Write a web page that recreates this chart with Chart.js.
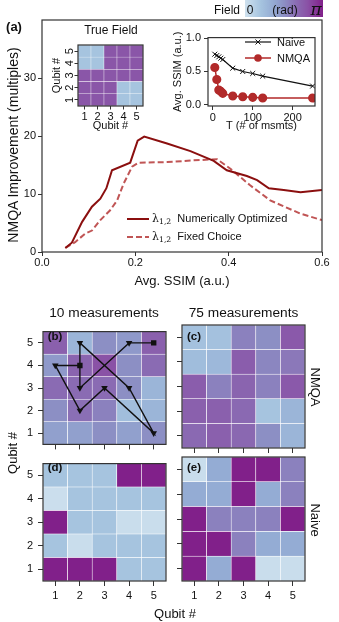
<!DOCTYPE html>
<html>
<head>
<meta charset="utf-8">
<script src="https://cdn.jsdelivr.net/npm/chart.js@4.4.0/dist/chart.umd.min.js"></script>
<style>
body { margin: 0; background: #fff; }
#fig { position: relative; width: 339px; height: 622px; overflow: hidden; font-family: "Liberation Sans", Arial, Helvetica, sans-serif; color: #111; }
#fig canvas { position: absolute; }
.t { position: absolute; white-space: nowrap; line-height: 1; }
.t sub { font-size: 70%; vertical-align: -0.25em; }
</style>
</head>
<body>
<div id="fig"></div>
<script>
// ---- data ----
// (a) main: NMQA improvement vs average SSIM
var ssimOpt = [0.05, 0.064, 0.086, 0.107, 0.125, 0.138, 0.15, 0.189, 0.205, 0.219, 0.268, 0.318, 0.368, 0.396, 0.439, 0.461, 0.486, 0.518, 0.554, 0.6];
var improveOpt = [0.7, 1.6, 5.2, 7.8, 9.2, 11, 14.1, 15.4, 19.2, 19.9, 18.7, 17.4, 15.7, 14.1, 13.1, 12.4, 11, 10.7, 10.3, 10.7];
var ssimFixed = [0.05, 0.071, 0.093, 0.107, 0.125, 0.146, 0.161, 0.175, 0.193, 0.207, 0.268, 0.325, 0.375, 0.403, 0.446, 0.489, 0.554, 0.6];
var improveFixed = [0.7, 1.7, 3.2, 3.7, 5.5, 7.2, 8.9, 11.8, 14.7, 15.4, 15.5, 15.8, 16, 14.4, 11.5, 8.9, 6.6, 5.5];

// (a) inset: SSIM vs number of measurements
var msmts = [5, 10, 15, 20, 25, 50, 75, 100, 125, 250];
var ssimNaive = [0.76, 0.74, 0.72, 0.7, 0.68, 0.55, 0.5, 0.47, 0.43, 0.28];
var ssimNmqa = [0.56, 0.38, 0.22, 0.2, 0.17, 0.13, 0.12, 0.11, 0.1, 0.1];

var qubits = ['1', '2', '3', '4', '5'];

// field maps as fraction of pi, rows listed from qubit 5 (top) to qubit 1 (bottom)
var trueField = [
	[0.2, 0.2, 0.78, 0.78, 0.78],
	[0.2, 0.2, 0.78, 0.78, 0.78],
	[0.78, 0.78, 0.78, 0.78, 0.78],
	[0.78, 0.78, 0.78, 0.2, 0.2],
	[0.78, 0.78, 0.78, 0.2, 0.2]
];
var nmqa10 = [
	[0.72, 0.3, 0.5, 0.45, 0.72],
	[0.45, 0.7, 0.8, 0.5, 0.66],
	[0.66, 0.66, 0.66, 0.5, 0.3],
	[0.5, 0.64, 0.56, 0.24, 0.3],
	[0.42, 0.42, 0.5, 0.42, 0.5]
];
var nmqa75 = [
	[0.22, 0.22, 0.56, 0.5, 0.76],
	[0.25, 0.28, 0.74, 0.54, 0.6],
	[0.74, 0.56, 0.7, 0.56, 0.76],
	[0.72, 0.72, 0.67, 0.2, 0.3],
	[0.67, 0.72, 0.68, 0.5, 0.3]
];
var naive10 = [
	[0.2, 0.2, 0.2, 1, 1],
	[0.02, 0.2, 0.2, 0.2, 0.2],
	[1, 0.2, 0.2, 0.03, 0.03],
	[0.2, 0.03, 0.2, 0.2, 0.2],
	[1, 1, 1, 0.2, 0.2]
];
var naive75 = [
	[0.03, 0.36, 1, 1, 0.56],
	[0.36, 0.36, 1, 0.36, 0.56],
	[1, 0.56, 0.56, 0.56, 1],
	[1, 1, 0.56, 0.36, 0.36],
	[1, 0.36, 1, 0.03, 0.03]
];
// measurement path for 10 measurements, [qubit x, qubit y]
var path10 = [[2, 4], [1, 4], [2, 2], [3, 3], [5, 1], [4, 3], [2, 5], [2, 3], [4, 5], [5, 5]];

// ---- helpers ----
var FONT = '"Liberation Sans", Arial, Helvetica, sans-serif';
Chart.defaults.font.family = FONT;
Chart.defaults.color = '#111';
Chart.defaults.animation = false;
Chart.defaults.events = [];
Chart.defaults.plugins.legend.display = false;
Chart.defaults.plugins.tooltip.enabled = false;

var fig = document.getElementById('fig');

// truncated BuPu-like map
var cmap = [
	[0.00, [207, 225, 238]],
	[0.20, [166, 196, 223]],
	[0.35, [149, 174, 213]],
	[0.50, [140, 143, 196]],
	[0.65, [138, 109, 180]],
	[0.80, [138, 82, 166]],
	[1.00, [129, 32, 138]]
];
function fieldColor(v) {
	for (var i = 1; i < cmap.length; i++) {
		if (v <= cmap[i][0]) {
			var a = cmap[i - 1], b = cmap[i];
			var f = (v - a[0]) / (b[0] - a[0]);
			var c = a[1].map(function(x, k) { return Math.round(x + (b[1][k] - x) * f); });
			return 'rgb(' + c.join(',') + ')';
		}
	}
	return 'rgb(' + cmap[cmap.length - 1][1].join(',') + ')';
}

function addCanvas(x, y, w, h) {
	var c = document.createElement('canvas');
	c.width = w; c.height = h;
	c.style.left = x + 'px'; c.style.top = y + 'px';
	c.style.width = w + 'px'; c.style.height = h + 'px';
	fig.appendChild(c);
	return c;
}

function addText(html, cx, cy, size, extra) {
	var d = document.createElement('div');
	d.className = 't';
	d.innerHTML = html;
	d.style.left = cx + 'px';
	d.style.top = cy + 'px';
	d.style.fontSize = size + 'px';
	var rot = extra && extra.rot ? ' rotate(' + extra.rot + 'deg)' : '';
	var anchor = extra && extra.left ? 'translate(0,-50%)' : 'translate(-50%,-50%)';
	d.style.transform = anchor + rot;
	if (extra && extra.bold) d.style.fontWeight = 'bold';
	if (extra && extra.italic) d.style.fontStyle = 'italic';
	if (extra && extra.family) d.style.fontFamily = extra.family;
	fig.appendChild(d);
	return d;
}

var framePlugin = {
	id: 'frame',
	afterDatasetsDraw: function(chart) {
		var a = chart.chartArea, ctx = chart.ctx;
		ctx.save();
		ctx.strokeStyle = '#333';
		ctx.lineWidth = 1.2;
		ctx.strokeRect(a.left, a.top, a.right - a.left, a.bottom - a.top);
		ctx.restore();
	}
};

function fixW(w) { return function(s) { s.width = w; }; }
function fixH(h) { return function(s) { s.height = h; }; }
function setTicks(list) { return function(s) { s.ticks = list.map(function(v) { return { value: v }; }); }; }

var tickGrid = { drawOnChartArea: false, drawTicks: true, tickLength: 4, color: '#333', lineWidth: 1 };

// ---- (a) main chart ----
// canvas [0,0,339,293], plot area [42,20,322,252]
new Chart(addCanvas(0, 0, 339, 293), {
	type: 'line',
	data: {
		datasets: [{
			data: ssimOpt.map(function(x, i) { return { x: x, y: improveOpt[i] }; }),
			borderColor: '#8b0f0f',
			borderWidth: 2,
			pointRadius: 0
		}, {
			data: ssimFixed.map(function(x, i) { return { x: x, y: improveFixed[i] }; }),
			borderColor: '#c05555',
			borderWidth: 2,
			borderDash: [6, 3],
			pointRadius: 0
		}]
	},
	options: {
		responsive: false,
		layout: { padding: { top: 20, right: 17, left: 0, bottom: 0 } },
		scales: {
			x: {
				type: 'linear', min: 0, max: 0.6,
				afterBuildTicks: setTicks([0, 0.2, 0.4, 0.6]),
				afterFit: fixH(41),
				grid: tickGrid, border: { display: false },
				ticks: { font: { size: 11 }, padding: 0, color: '#111', callback: function(v) { return v.toFixed(1); } },
				title: { display: true, text: 'Avg. SSIM (a.u.)', font: { size: 13 }, color: '#111', padding: { top: 0, bottom: 4 } }
			},
			y: {
				type: 'linear', min: 0, max: 40,
				afterBuildTicks: setTicks([0, 10, 20, 30]),
				afterFit: fixW(42),
				grid: tickGrid, border: { display: false },
				ticks: { font: { size: 11 }, padding: 2, color: '#111' }
			}
		}
	},
	plugins: [framePlugin]
});
addText('NMQA Improvement (multiples)', 13, 145, 14, { rot: -90 });
addText('(a)', 14, 26, 13, { bold: true });

// main legend
function legendLine(x, y, w, color, dash) {
	var s = '<svg width="' + w + '" height="6" style="position:absolute;left:' + x + 'px;top:' + (y - 3) + 'px">' +
		'<line x1="0" y1="3" x2="' + w + '" y2="3" stroke="' + color + '" stroke-width="2"' + (dash ? ' stroke-dasharray="6,3"' : '') + '/></svg>';
	fig.insertAdjacentHTML('beforeend', s);
}
legendLine(127, 219, 22, '#8b0f0f', false);
legendLine(127, 237, 22, '#c05555', true);
addText('<span style="font-family:\'DejaVu Serif\',serif">λ<sub>1,2</sub></span>&nbsp; Numerically Optimized', 152, 219, 11, { left: true });
addText('<span style="font-family:\'DejaVu Serif\',serif">λ<sub>1,2</sub></span>&nbsp; Fixed Choice', 152, 237, 11, { left: true });

// colorbar
var cb = document.createElement('div');
cb.style.cssText = 'position:absolute;left:245px;top:0px;width:78px;height:17px;';
var stops = [];
for (var i = 0; i <= 10; i++) stops.push(fieldColor(i / 10) + ' ' + (i * 10) + '%');
cb.style.background = 'linear-gradient(to right,' + stops.join(',') + ')';
fig.appendChild(cb);
addText('Field', 227, 10, 12);
addText('0', 250, 10, 12);
addText('(rad)', 285, 10, 12);
addText('π', 316, 9, 17, { family: '"DejaVu Serif", serif', italic: true });

// ---- heatmap helper (stacked bars, one dataset per qubit row) ----
function heatmap(box, area, field, o) {
	var wy = area[0] - box[0], hx = box[1] + box[3] - area[3];
	var sets = [];
	if (o.path) {
		sets.push({
			type: 'line',
			stack: 'path',
			data: o.path.map(function(p) { return { x: String(p[0]), y: p[1] - 0.5 }; }),
			borderColor: '#111',
			borderWidth: 1.4,
			pointStyle: o.path.map(function(p, i) { return (i === 0 || i === o.path.length - 1) ? 'rect' : 'triangle'; }),
			pointRotation: 180,
			pointRadius: 3.8,
			pointBackgroundColor: '#111',
			pointBorderColor: '#111',
			pointBorderWidth: 0
		});
	}
	for (var r = 1; r <= 5; r++) {
		sets.push({
			type: 'bar',
			data: qubits.map(function() { return 1; }),
			backgroundColor: field[5 - r].map(fieldColor),
			borderColor: '#ffffff',
			borderWidth: o.bw || 0.6,
			borderSkipped: false,
			barPercentage: 1,
			categoryPercentage: 1
		});
	}
	var g = { drawOnChartArea: false, drawTicks: true, tickLength: o.tl || 5, color: '#333', lineWidth: 1, offset: false };
	new Chart(addCanvas(box[0], box[1], box[2], box[3]), {
		type: 'bar',
		data: { labels: qubits, datasets: sets },
		options: {
			responsive: false,
			layout: { padding: { top: area[1] - box[1], right: box[0] + box[2] - area[2], left: 0, bottom: 0 } },
			scales: {
				x: {
					type: 'category', stacked: true, offset: true,
					afterFit: fixH(hx),
					grid: g, border: { display: false },
					ticks: { display: !!o.xLabels, font: { size: o.fs || 11 }, padding: o.xpad || 3, color: '#111', maxRotation: 0 },
					title: o.xTitle ? { display: true, text: o.xTitle, font: { size: 11 }, color: '#111', padding: { top: 0, bottom: 0 } } : { display: false }
				},
				y: {
					type: 'linear', stacked: true, min: 0, max: 5,
					afterBuildTicks: setTicks([0.5, 1.5, 2.5, 3.5, 4.5]),
					afterFit: fixW(wy),
					grid: g, border: { display: false },
					ticks: Object.assign({ display: !!o.yLabels, font: { size: o.fs || 11 }, padding: o.ypad || 5, color: '#111',
						callback: function(v) { return String(v + 0.5); } }, o.yRot ? { minRotation: 90, maxRotation: 90, crossAlign: 'center' } : {}),
					title: o.yTitle ? { display: true, text: o.yTitle, font: { size: 11 }, color: '#111', padding: { top: 2, bottom: 0 } } : { display: false }
				}
			}
		},
		plugins: [framePlugin]
	});
}

// (a) inset: true field
heatmap([48, 20, 99, 113], [78, 45, 143, 106], trueField,
	{ xLabels: true, yLabels: true, yRot: true, xTitle: 'Qubit #', yTitle: 'Qubit #', tl: 3.5, xpad: 1, ypad: 1, bw: 0.5 });
addText('True Field', 111, 30, 12);

// (a) inset: SSIM vs T
new Chart(addCanvas(169, 28, 153, 105), {
	type: 'line',
	data: {
		datasets: [{
			data: msmts.map(function(x, i) { return { x: x, y: ssimNaive[i] }; }),
			borderColor: '#111', borderWidth: 1.2,
			pointStyle: 'crossRot', pointRadius: 3.5, pointBorderColor: '#111', pointBorderWidth: 1
		}, {
			data: msmts.map(function(x, i) { return { x: x, y: ssimNmqa[i] }; }),
			borderColor: '#b22a2a', borderWidth: 1.5,
			pointStyle: 'circle', pointRadius: 3.8, pointBackgroundColor: '#b22a2a', pointBorderColor: '#b22a2a'
		}]
	},
	options: {
		responsive: false,
		layout: { padding: { top: 5, right: 7, left: 0, bottom: 0 } },
		scales: {
			x: {
				type: 'linear', min: -12, max: 256,
				afterBuildTicks: setTicks([0, 100, 200]),
				afterFit: fixH(27),
				grid: tickGrid, border: { display: false },
				ticks: { font: { size: 11 }, padding: 1, color: '#111' },
				title: { display: true, text: 'T (# of msmts)', font: { size: 11 }, color: '#111', padding: { top: 0, bottom: 0 } }
			},
			y: {
				type: 'linear', min: -0.02, max: 1.01,
				afterBuildTicks: setTicks([0, 0.5, 1]),
				afterFit: fixW(39),
				grid: tickGrid, border: { display: false },
				ticks: { font: { size: 11 }, padding: 3, color: '#111', callback: function(v) { return v.toFixed(1); } },
				title: { display: true, text: 'Avg. SSIM (a.u.)', font: { size: 11 }, color: '#111', padding: { top: 2, bottom: 0 } }
			}
		}
	},
	plugins: [framePlugin]
});
// inset legend
fig.insertAdjacentHTML('beforeend',
	'<svg width="30" height="30" style="position:absolute;left:244px;top:36px">' +
	'<line x1="1" y1="6" x2="27" y2="6" stroke="#111" stroke-width="1.2"/>' +
	'<path d="M11.5 3.5 L16.5 8.5 M16.5 3.5 L11.5 8.5" stroke="#111" stroke-width="1"/>' +
	'<line x1="1" y1="22" x2="27" y2="22" stroke="#b22a2a" stroke-width="1.5"/>' +
	'<circle cx="14" cy="22" r="3.8" fill="#b22a2a"/></svg>');
addText('Naive', 277, 42, 11, { left: true });
addText('NMQA', 277, 58, 11, { left: true });

// ---- (b)-(e) heatmaps ----
heatmap([20, 320, 151, 136], [43, 325, 166, 448], nmqa10, { yLabels: true, path: path10 });
heatmap([172, 320, 139, 136], [182, 325, 305, 448], nmqa75, {});
heatmap([20, 452, 151, 152], [43, 457, 166, 581], naive10, { xLabels: true, yLabels: true, xpad: 3 });
heatmap([172, 452, 139, 152], [182, 457, 305, 581], naive75, { xLabels: true, xpad: 3 });

addText('10 measurements', 104, 313, 13.7);
addText('75 measurements', 243.5, 313, 13.7);
addText('(b)', 55, 337, 11.5, { bold: true });
addText('(c)', 194, 337, 11.5, { bold: true });
addText('(d)', 55, 468, 11.5, { bold: true });
addText('(e)', 194, 468, 11.5, { bold: true });
addText('NMQA', 315, 387, 13, { rot: 90 });
addText('Naive', 315, 520, 13, { rot: 90 });
addText('Qubit #', 12, 453, 13, { rot: -90 });
addText('Qubit #', 175, 613, 13);
</script>
</body>
</html>
